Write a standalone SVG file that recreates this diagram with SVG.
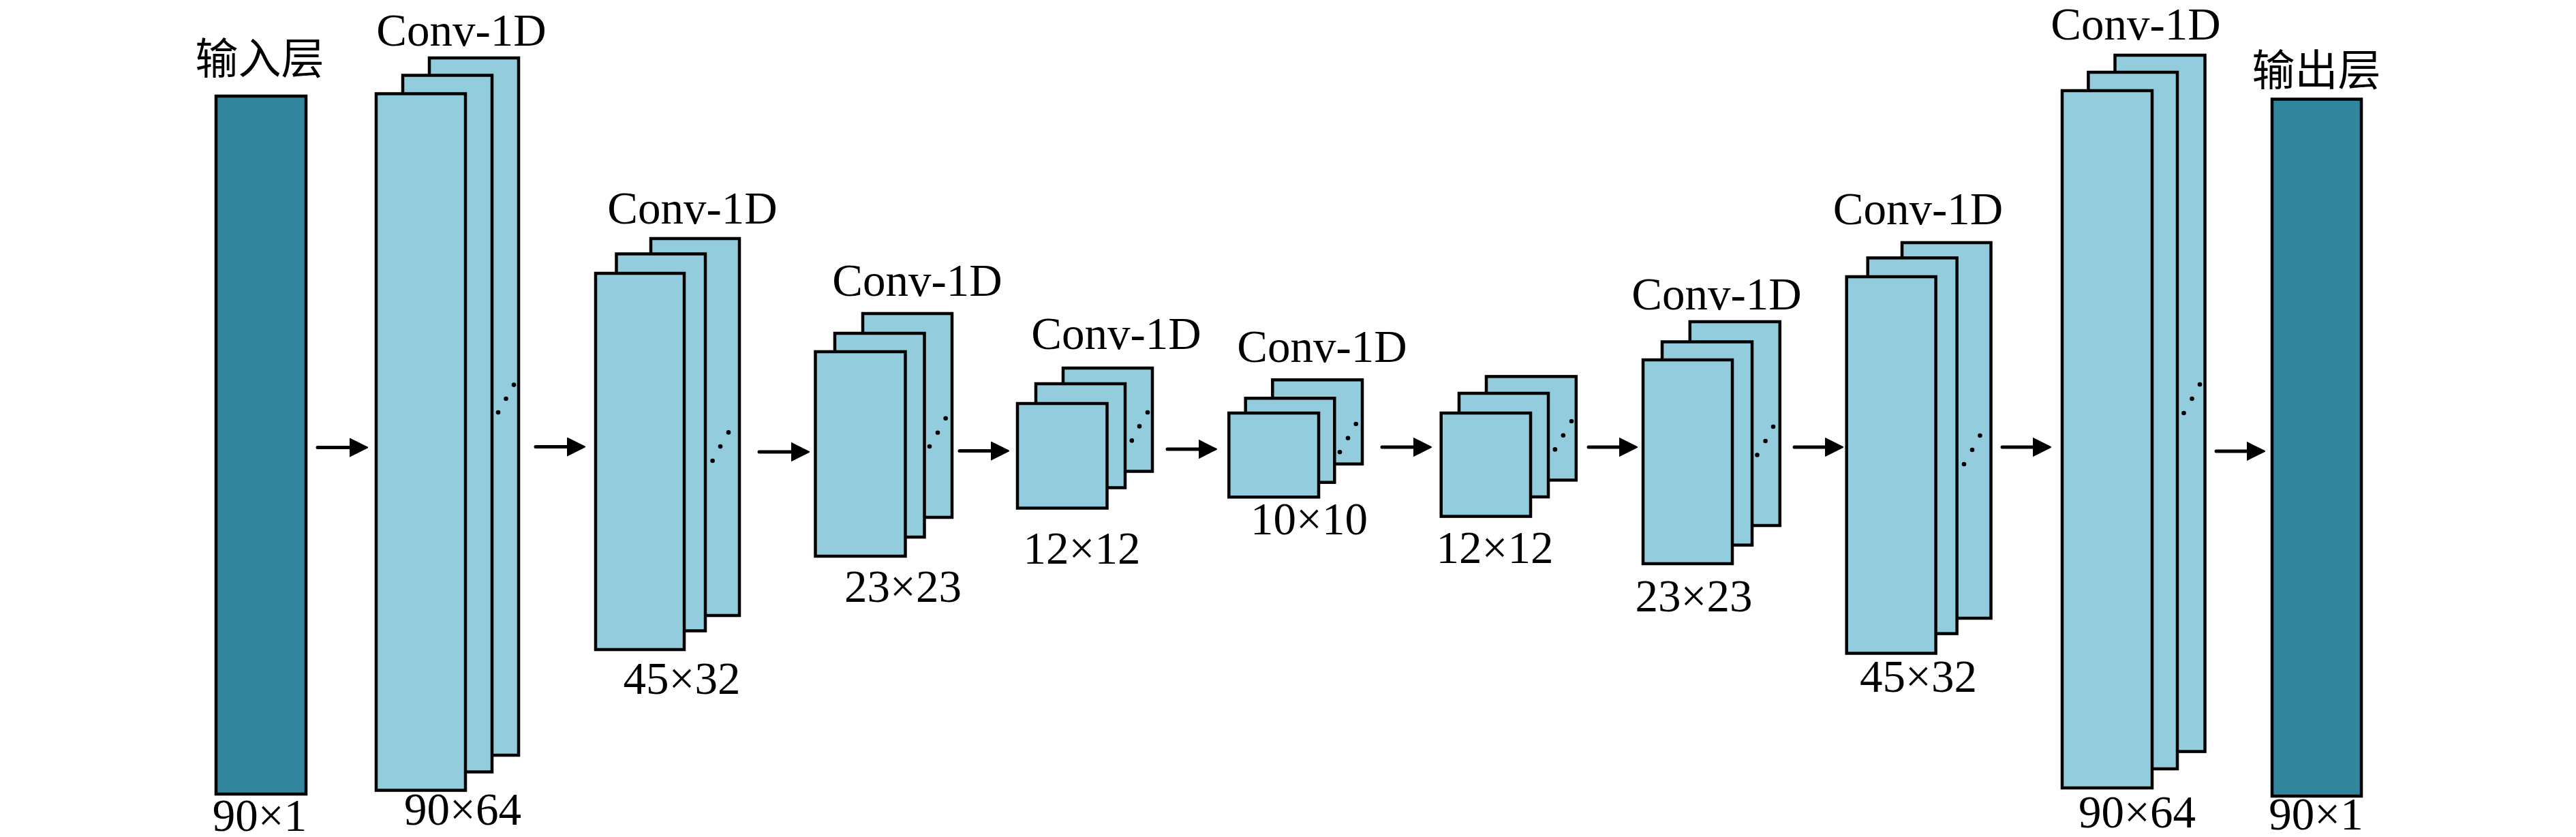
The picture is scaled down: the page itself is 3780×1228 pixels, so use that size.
<svg xmlns="http://www.w3.org/2000/svg" width="3780" height="1228" viewBox="0 0 3780 1228">
<style>
.io{fill:#31859C;stroke:#000;stroke-width:4.5}
.fm{fill:#93CDDD;stroke:#000;stroke-width:4.5}
.dot{fill:#000}
.lbl{font-family:"Liberation Serif","Times New Roman",serif;font-size:67px;fill:#000;text-anchor:middle}
.cjk{font-family:"Noto Sans CJK SC","Noto Sans CJK JP",sans-serif;font-size:63px;fill:#000;text-anchor:middle}
.arr{stroke:#000;stroke-width:5;stroke-linecap:round;fill:none}
</style>
<defs>
<marker id="ah" viewBox="0 -14 28 28" refX="2" refY="0" markerWidth="28" markerHeight="28" markerUnits="userSpaceOnUse" orient="auto">
<path d="M0,-13 L26,0 L0,13 Z" fill="#000" stroke="#000" stroke-width="2" stroke-linejoin="round"/>
</marker>
</defs>
<rect width="3780" height="1228" fill="#fff"/>

<g id="input">
<rect class="io" x="317" y="141" width="132" height="1024"/>
<text class="cjk" x="381" y="108">输入层</text>
<text class="lbl" x="381" y="1219">90×1</text>
</g>

<g id="conv1">
<rect class="fm" x="630" y="85" width="131" height="1023"/>
<rect class="fm" x="591" y="110.5" width="131" height="1022"/>
<rect class="fm" x="552" y="137.5" width="131" height="1022"/>
<circle class="dot" cx="731" cy="605" r="3.3"/><circle class="dot" cx="742.5" cy="585" r="3.3"/><circle class="dot" cx="754" cy="564.6" r="3.3"/>
<text class="lbl" x="677" y="67">Conv-1D</text>
<text class="lbl" x="679" y="1210">90×64</text>
</g>

<g id="conv2">
<rect class="fm" x="955" y="350" width="130" height="553"/>
<rect class="fm" x="904.5" y="372.5" width="130.5" height="553"/>
<rect class="fm" x="874" y="401" width="130" height="552"/>
<circle class="dot" cx="1045.6" cy="676" r="3.3"/><circle class="dot" cx="1057" cy="655" r="3.3"/><circle class="dot" cx="1069" cy="634.4" r="3.3"/>
<text class="lbl" x="1016" y="328">Conv-1D</text>
<text class="lbl" x="1000.5" y="1018">45×32</text>
</g>

<g id="conv3">
<rect class="fm" x="1266" y="460" width="131" height="299"/>
<rect class="fm" x="1225" y="489" width="131.5" height="299"/>
<rect class="fm" x="1196.5" y="516" width="132" height="300"/>
<circle class="dot" cx="1364" cy="655" r="3.3"/><circle class="dot" cx="1376" cy="634.8" r="3.3"/><circle class="dot" cx="1387.6" cy="613.8" r="3.3"/>
<text class="lbl" x="1346" y="434">Conv-1D</text>
<text class="lbl" x="1325" y="883">23×23</text>
</g>

<g id="conv4">
<rect class="fm" x="1560" y="540" width="131" height="151.5"/>
<rect class="fm" x="1520" y="563" width="131" height="152.5"/>
<rect class="fm" x="1493" y="592" width="131.5" height="153.5"/>
<circle class="dot" cx="1660.8" cy="646.4" r="3.3"/><circle class="dot" cx="1672" cy="625.4" r="3.3"/><circle class="dot" cx="1684" cy="605" r="3.3"/>
<text class="lbl" x="1638" y="512">Conv-1D</text>
<text class="lbl" x="1587.5" y="827">12×12</text>
</g>

<g id="conv5">
<rect class="fm" x="1867.3" y="557.3" width="131.7" height="123.4"/>
<rect class="fm" x="1827.7" y="584.3" width="130.6" height="123.4"/>
<rect class="fm" x="1803.3" y="606" width="131.7" height="123.3"/>
<circle class="dot" cx="1966" cy="663.3" r="3.3"/><circle class="dot" cx="1978" cy="642.7" r="3.3"/><circle class="dot" cx="1989.7" cy="622" r="3.3"/>
<text class="lbl" x="1940" y="531">Conv-1D</text>
<text class="lbl" x="1921" y="784">10×10</text>
</g>

<g id="conv6">
<rect class="fm" x="2181" y="552.4" width="131.8" height="152"/>
<rect class="fm" x="2141" y="577" width="131" height="152"/>
<rect class="fm" x="2114.7" y="606" width="131.3" height="151.6"/>
<circle class="dot" cx="2281.8" cy="659.4" r="3.3"/><circle class="dot" cx="2293.8" cy="638.7" r="3.3"/><circle class="dot" cx="2306" cy="618" r="3.3"/>
<text class="lbl" x="2193.5" y="826">12×12</text>
</g>

<g id="conv7">
<rect class="fm" x="2479.8" y="472" width="132" height="299"/>
<rect class="fm" x="2439" y="501.5" width="132" height="298.2"/>
<rect class="fm" x="2411" y="528" width="131" height="299"/>
<circle class="dot" cx="2578.5" cy="667.5" r="3.3"/><circle class="dot" cx="2590.6" cy="647" r="3.3"/><circle class="dot" cx="2602" cy="626" r="3.3"/>
<text class="lbl" x="2519" y="454">Conv-1D</text>
<text class="lbl" x="2485.5" y="897">23×23</text>
</g>

<g id="conv8">
<rect class="fm" x="2791" y="356" width="130.5" height="551"/>
<rect class="fm" x="2740.7" y="378.4" width="130.9" height="551.2"/>
<rect class="fm" x="2709.7" y="406" width="130.9" height="552.5"/>
<circle class="dot" cx="2882" cy="681" r="3.3"/><circle class="dot" cx="2894" cy="660" r="3.3"/><circle class="dot" cx="2905.4" cy="639" r="3.3"/>
<text class="lbl" x="2814.5" y="329">Conv-1D</text>
<text class="lbl" x="2815" y="1015">45×32</text>
</g>

<g id="conv9">
<rect class="fm" x="3103.5" y="81" width="132" height="1021.6"/>
<rect class="fm" x="3064.4" y="106" width="130.6" height="1022"/>
<rect class="fm" x="3026" y="133" width="132" height="1023"/>
<circle class="dot" cx="3204.5" cy="606" r="3.3"/><circle class="dot" cx="3216.5" cy="585" r="3.3"/><circle class="dot" cx="3228" cy="564" r="3.3"/>
<text class="lbl" x="3134" y="58">Conv-1D</text>
<text class="lbl" x="3136" y="1214">90×64</text>
</g>

<g id="output">
<rect class="io" x="3334" y="145.5" width="131" height="1022.5"/>
<text class="cjk" x="3399" y="125">输出层</text>
<text class="lbl" x="3398.5" y="1217">90×1</text>
</g>

<g id="connectors">
<line class="arr" x1="466" y1="656.5" x2="515" y2="656.5" marker-end="url(#ah)"/>
<line class="arr" x1="786" y1="655.5" x2="834" y2="655.5" marker-end="url(#ah)"/>
<line class="arr" x1="1114" y1="663" x2="1163" y2="663" marker-end="url(#ah)"/>
<line class="arr" x1="1408" y1="661.5" x2="1456" y2="661.5" marker-end="url(#ah)"/>
<line class="arr" x1="1713" y1="659" x2="1761" y2="659" marker-end="url(#ah)"/>
<line class="arr" x1="2028" y1="656" x2="2076" y2="656" marker-end="url(#ah)"/>
<line class="arr" x1="2331" y1="656" x2="2378" y2="656" marker-end="url(#ah)"/>
<line class="arr" x1="2633" y1="656" x2="2680" y2="656" marker-end="url(#ah)"/>
<line class="arr" x1="2938" y1="656" x2="2985" y2="656" marker-end="url(#ah)"/>
<line class="arr" x1="3252" y1="662" x2="3299" y2="662" marker-end="url(#ah)"/>
</g>
</svg>
